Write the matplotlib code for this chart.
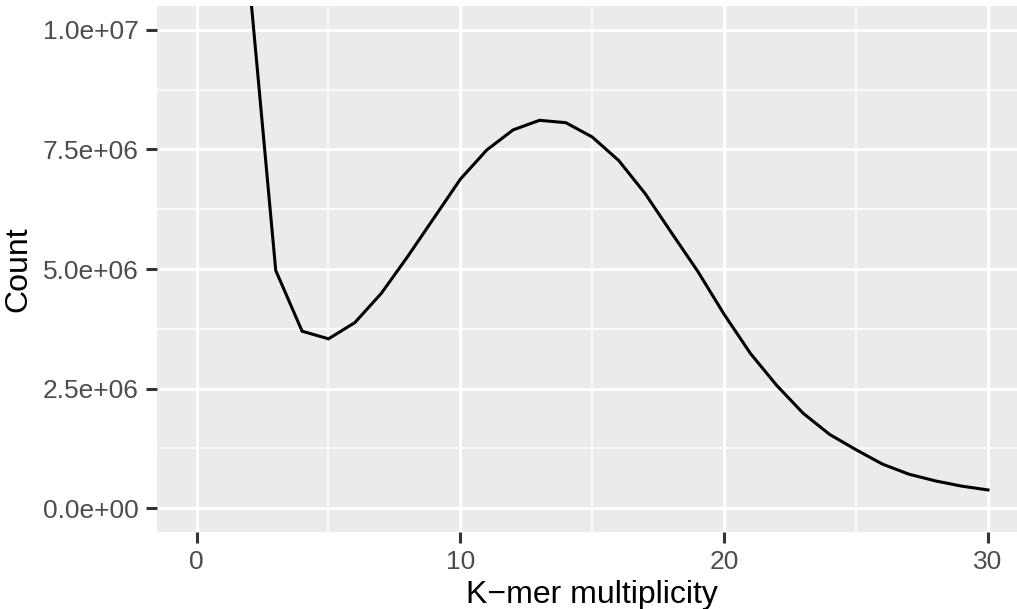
import matplotlib
matplotlib.use("Agg")
import matplotlib.pyplot as plt
from matplotlib.ticker import FixedLocator, FuncFormatter

plt.rcParams["font.family"] = ["Liberation Sans", "DejaVu Sans"]

# k-mer histogram (multiplicity vs. count)
multiplicity = list(range(1, 31))
count = [6.0e7, 1.10e7, 4.97e6, 3.70e6, 3.54e6, 3.88e6, 4.49e6, 5.26e6, 6.07e6, 6.88e6,
         7.49e6, 7.91e6, 8.11e6, 8.06e6, 7.76e6, 7.27e6, 6.58e6, 5.76e6, 4.95e6, 4.05e6,
         3.23e6, 2.56e6, 1.98e6, 1.54e6, 1.22e6, 0.92e6, 0.71e6, 0.57e6, 0.46e6, 0.38e6]

x_breaks = [0, 10, 20, 30]
y_breaks = [0, 2.5e6, 5.0e6, 7.5e6, 1.0e7]

fig = plt.figure(figsize=(10.17, 6.09), dpi=100)
ax = fig.add_axes([0.1544, 0.1264, 0.856, 0.8637])
ax.set_facecolor("#EBEBEB")

ax.plot(multiplicity, count, color="black", linewidth=2.2, solid_joinstyle="miter", zorder=3)

ax.set_xlim(-1.5, 31.5)
ax.set_ylim(-5e5, 1.05e7)

ax.xaxis.set_major_locator(FixedLocator(x_breaks))
ax.xaxis.set_minor_locator(FixedLocator([5, 15, 25]))
ax.yaxis.set_major_locator(FixedLocator(y_breaks))
ax.yaxis.set_minor_locator(FixedLocator([1.25e6, 3.75e6, 6.25e6, 8.75e6]))


def sci(v, pos):
    m, e = f"{v:.1e}".split("e")
    return f"{m}e{e[0]}{int(e[1:]):02d}"


ax.yaxis.set_major_formatter(FuncFormatter(sci))

ax.grid(which="major", color="white", linewidth=2.2)
ax.grid(which="minor", color="white", linewidth=1.1)
ax.set_axisbelow(True)
for s in ax.spines.values():
    s.set_visible(False)

ax.tick_params(which="major", length=8, width=2.2, color="#333333",
               labelsize=19, labelcolor="#4D4D4D", pad=5)
ax.tick_params(which="minor", length=0)

ax.set_xlabel("K\u2212mer multiplicity", fontsize=23, color="black", labelpad=4)
ax.set_ylabel("Count", fontsize=23, color="black", labelpad=7)

fig.savefig("out.png", dpi=100)
